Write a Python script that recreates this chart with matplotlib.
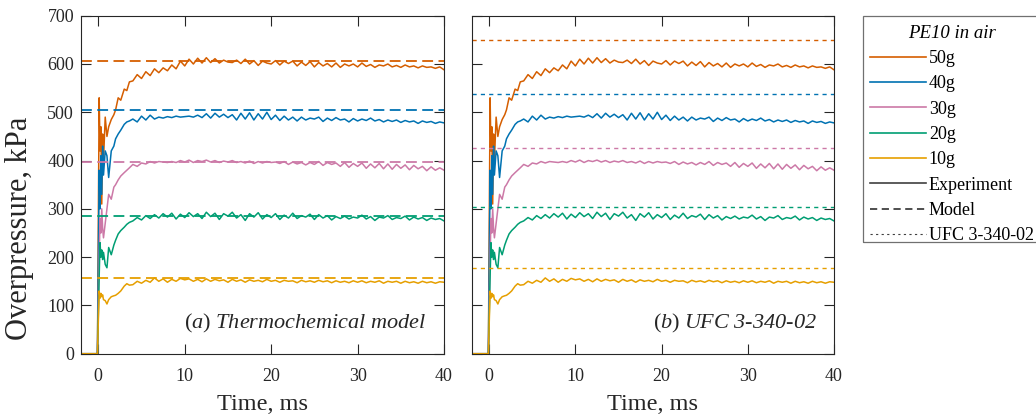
import numpy as np
import matplotlib.pyplot as plt
from matplotlib.lines import Line2D
from matplotlib.patches import Rectangle

plt.rcParams['font.family'] = ['Liberation Serif', 'DejaVu Serif']
plt.rcParams['mathtext.fontset'] = 'custom'
plt.rcParams['mathtext.rm'] = 'Liberation Serif'
plt.rcParams['mathtext.it'] = 'Liberation Serif:italic'

# time base, ms: dense samples around the arrival, then every 0.5 ms
t_early = [-2, -0.1, 0.1, 0.2, 0.3, 0.4, 0.5, 0.6, 0.8, 1.0,
           1.2, 1.5, 1.8, 2.0, 2.3, 2.6, 3.0, 3.3, 3.6]
t_late = np.arange(4.0, 40.01, 0.5)
time = np.concatenate([t_early, t_late])

charges = ['50g', '40g', '30g', '20g', '10g']
colors = ['#D55E00', '#0072B2', '#CC79A7', '#009E73', '#E69F00']

# measured overpressure, kPa
p50 = [0, 0, 530, 420, 470, 310, 455, 400, 490, 450,
       470, 485, 495, 505, 530, 525, 548, 545, 563,
       565, 578, 570, 584, 576, 590, 582, 592, 586, 598,
       590, 606, 596, 610, 600, 612, 602, 613, 603, 611,
       602, 608, 604, 603, 608, 601, 610, 600, 607, 597,
       606, 602, 600, 607, 598, 606, 601, 606, 596, 604,
       597, 605, 594, 603, 596, 601, 594, 602, 593, 600,
       596, 600, 594, 602, 595, 599, 593, 598, 596, 600,
       594, 597, 593, 598, 594, 596, 592, 596, 593, 594,
       591, 594, 588]
p40 = [0, 0, 380, 300, 410, 330, 430, 370, 420, 410,
       365, 420, 430, 445, 455, 463, 475, 480, 482,
       486, 480, 492, 484, 494, 486, 490, 488, 491, 489,
       492, 490, 491, 492, 490, 494, 489, 497, 488, 498,
       490, 496, 489, 495, 484, 498, 486, 499, 484, 497,
       486, 500, 485, 494, 483, 492, 484, 490, 482, 490,
       484, 488, 486, 490, 481, 488, 483, 489, 484, 486,
       480, 487, 482, 486, 483, 488, 482, 485, 480, 484,
       481, 484, 479, 483, 480, 482, 477, 482, 479, 481,
       477, 480, 478]
p30 = [0, 0, 200, 280, 250, 300, 260, 240, 270, 300,
       330, 320, 345, 350, 360, 368, 375, 380, 385,
       392, 388, 395, 393, 398, 395, 398, 397, 396, 398,
       396, 400, 397, 401, 396, 400, 398, 401, 397, 400,
       396, 399, 397, 400, 396, 398, 395, 399, 394, 398,
       395, 398, 396, 397, 394, 398, 392, 397, 393, 396,
       391, 396, 392, 398, 390, 396, 392, 395, 388, 396,
       386, 394, 388, 395, 384, 393, 385, 394, 383, 393,
       382, 392, 384, 391, 381, 390, 383, 388, 379, 387,
       380, 385, 380]
p20 = [0, 0, 160, 230, 200, 215, 195, 210, 185, 178,
       220, 205, 225, 235, 248, 255, 262, 268, 272,
       275, 282, 277, 286, 280, 288, 281, 290, 283, 291,
       279, 289, 282, 292, 284, 290, 280, 293, 284, 291,
       278, 290, 285, 293, 281, 288, 276, 290, 283, 292,
       279, 288, 282, 290, 278, 287, 281, 291, 280, 286,
       283, 289, 278, 288, 281, 286, 277, 284, 280, 285,
       279, 283, 281, 287, 279, 284, 276, 283, 281, 286,
       278, 282, 280, 285, 277, 283, 279, 282, 276, 281,
       278, 280, 275]
p10 = [0, 0, 130, 115, 125, 118, 122, 112, 110, 103,
       112, 118, 120, 121, 125, 130, 140, 145, 142,
       143, 150, 146, 152, 148, 157, 150, 155, 148, 154,
       150, 156, 153, 155, 150, 154, 149, 155, 150, 154,
       151, 153, 148, 154, 150, 153, 148, 153, 150, 152,
       149, 154, 150, 152, 148, 152, 150, 151, 147, 152,
       149, 151, 148, 152, 149, 151, 147, 151, 148, 150,
       147, 151, 148, 151, 147, 150, 148, 151, 146, 150,
       148, 150, 146, 150, 147, 149, 146, 150, 147, 149,
       146, 149, 148]
experiment = [p50, p40, p30, p20, p10]

# predicted peak overpressure, kPa
model = [606, 504, 397, 285, 157]
ufc = [650, 538, 426, 304, 177]

W, H = 1036, 419
fig = plt.figure(figsize=(W / 100, H / 100), dpi=100)
ax1 = fig.add_axes([0.0782, 0.1558, 0.3504, 0.8067])
ax2 = fig.add_axes([0.4556, 0.1558, 0.3494, 0.8067])

for ax, ref, style, lw_ref in [(ax1, model, (0, (6, 3)), 1.3),
                               (ax2, ufc, (0, (3, 3)), 1.0)]:
    for p, r, c in zip(experiment, ref, colors):
        ax.plot(time, p, color=c, lw=1.1)
        ax.axhline(r, color=c, lw=lw_ref, linestyle=style)
    ax.set_xlim(-2, 40)
    ax.set_ylim(0, 700)
    ax.set_xticks([0, 10, 20, 30, 40])
    ax.set_yticks(range(0, 701, 100))
    ax.tick_params(direction='in', length=7, width=0.8, top=True, right=True,
                   labelsize=13, colors='#262626')
    ax.tick_params(axis='x', pad=10)
    ax.tick_params(axis='y', pad=5)
    for s in ax.spines.values():
        s.set_color('#262626')
        s.set_linewidth(0.8)
    ax.set_xlabel('Time, ms', fontsize=17.5, color='#262626', labelpad=7)

ax2.tick_params(labelleft=False)
fig.text(20 / W, 1 - 228 / H, 'Overpressure, kPa', rotation=90,
         ha='center', va='center', fontsize=22, color='#262626')

ax1.text(0.953, 0.055, r'$(a)$ Thermochemical model', transform=ax1.transAxes,
         ha='right', va='bottom', fontsize=16, fontstyle='italic', color='#262626')
ax2.text(0.953, 0.055, r'$(b)$ UFC 3-340-02', transform=ax2.transAxes,
         ha='right', va='bottom', fontsize=16, fontstyle='italic', color='#262626')

# legend box runs off the right edge of the figure
fig.patches.append(Rectangle((863 / W, 1 - 241.7 / H), 200 / W, 226 / H,
                             transform=fig.transFigure, fill=False,
                             edgecolor='#707070', lw=0.9))

handles = [Line2D([], [], color=c, lw=1.2) for c in colors]
handles += [Line2D([], [], color='#404040', lw=1.2),
            Line2D([], [], color='#404040', lw=1.3, linestyle=(0, (4, 2.5))),
            Line2D([], [], color='#404040', lw=0.8, linestyle=(0, (2, 3)))]
labels = charges + ['Experiment', 'Model', 'UFC 3-340-02']
leg = fig.legend(handles, labels, loc='upper left',
                 bbox_to_anchor=(863 / W, 1 - 17.5 / H),
                 title='PE10 in air', fontsize=13, title_fontsize=13.5,
                 frameon=False, handlelength=3.1, handletextpad=0.15,
                 labelspacing=0.46, borderpad=0.4, borderaxespad=0)
leg.get_title().set_fontstyle('italic')

fig.savefig('out.png', dpi=100)
